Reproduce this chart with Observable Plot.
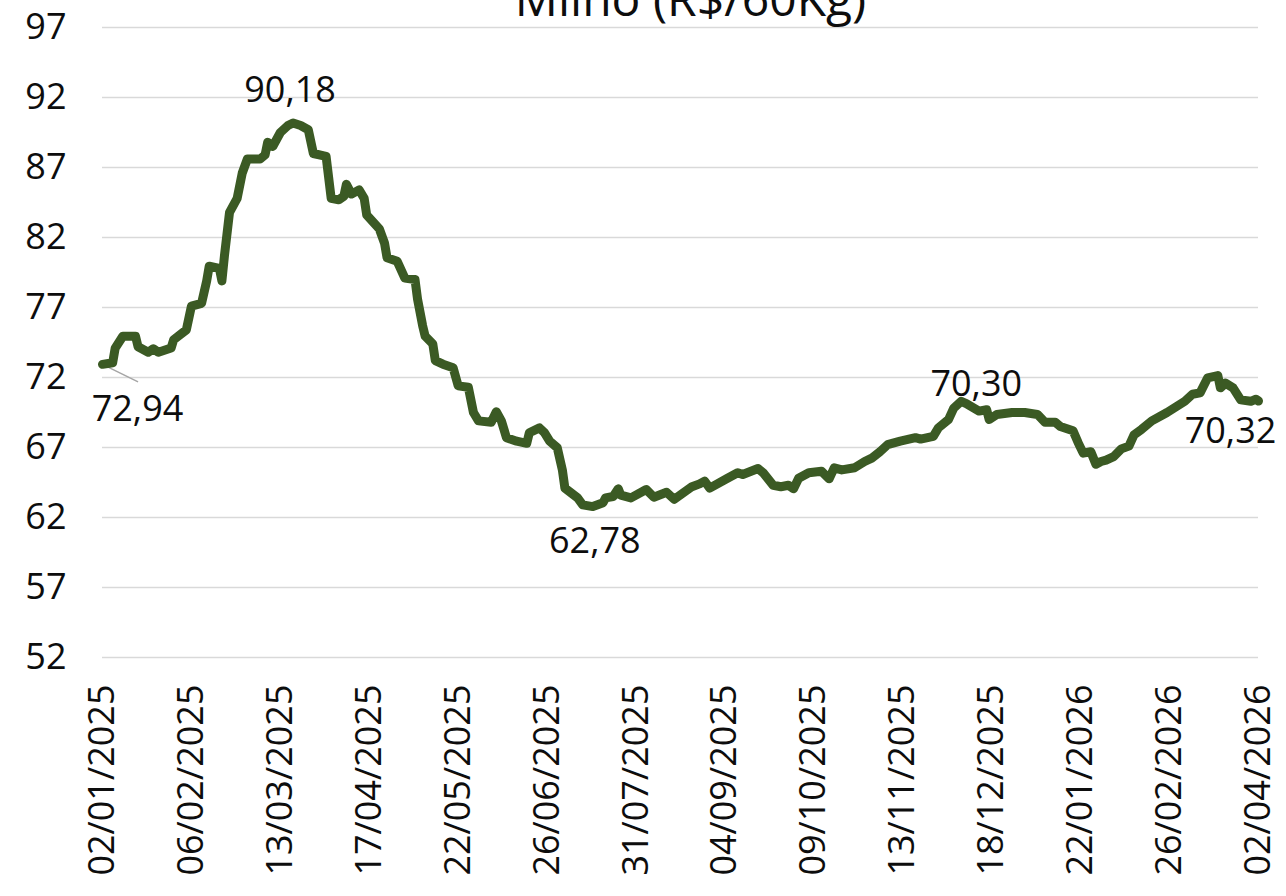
<!DOCTYPE html>
<html>
<head>
<meta charset="utf-8">
<script src="https://cdn.jsdelivr.net/npm/d3@7"></script>
<script src="https://cdn.jsdelivr.net/npm/@observablehq/plot@0.6"></script>
<style>
  html, body { margin: 0; padding: 0; background: #fff; }
  #chart { width: 1286px; height: 896px; overflow: hidden; }
</style>
</head>
<body>
<div id="chart"></div>
<script>
const titleText = "Milho (R$/60Kg)";

const dates = [
"2025-01-02","2025-01-06","2025-01-07","2025-01-10","2025-01-15","2025-01-16","2025-01-20","2025-01-22","2025-01-24","2025-01-29",
"2025-01-30","2025-02-04","2025-02-06","2025-02-10","2025-02-12","2025-02-13","2025-02-17","2025-02-18","2025-02-19","2025-02-21",
"2025-02-24","2025-02-26","2025-02-28","2025-03-05","2025-03-07","2025-03-08","2025-03-10","2025-03-13","2025-03-16","2025-03-18",
"2025-03-21","2025-03-24","2025-03-26","2025-03-31","2025-04-02","2025-04-05","2025-04-07","2025-04-08","2025-04-10","2025-04-13",
"2025-04-15","2025-04-16","2025-04-21","2025-04-23","2025-04-24","2025-04-28","2025-05-01","2025-05-05","2025-05-06","2025-05-08",
"2025-05-09","2025-05-12","2025-05-13","2025-05-16","2025-05-20","2025-05-22","2025-05-26","2025-05-28","2025-05-30","2025-06-04",
"2025-06-06","2025-06-08","2025-06-10","2025-06-14","2025-06-18","2025-06-19","2025-06-23","2025-06-25","2025-06-27","2025-06-30",
"2025-07-02","2025-07-03","2025-07-08","2025-07-10","2025-07-14","2025-07-18","2025-07-19","2025-07-22","2025-07-24","2025-07-25",
"2025-07-29","2025-08-04","2025-08-07","2025-08-12","2025-08-15","2025-08-22","2025-08-25","2025-08-27","2025-08-29","2025-09-05",
"2025-09-09","2025-09-11","2025-09-17","2025-09-19","2025-09-23","2025-09-26","2025-09-29","2025-10-01","2025-10-03","2025-10-07",
"2025-10-12","2025-10-15","2025-10-17","2025-10-20","2025-10-25","2025-10-29","2025-11-01","2025-11-04","2025-11-07","2025-11-12",
"2025-11-18","2025-11-20","2025-11-25","2025-11-27","2025-12-01","2025-12-03","2025-12-06","2025-12-08","2025-12-13","2025-12-16",
"2025-12-17","2025-12-20","2025-12-26","2025-12-31","2026-01-05","2026-01-08","2026-01-12","2026-01-14","2026-01-19","2026-01-21",
"2026-01-23","2026-01-26","2026-01-28","2026-01-30","2026-02-01","2026-02-04","2026-02-07","2026-02-10","2026-02-12","2026-02-15",
"2026-02-19","2026-02-25","2026-03-04","2026-03-07","2026-03-10","2026-03-13","2026-03-17","2026-03-18","2026-03-20","2026-03-23",
"2026-03-26","2026-03-30","2026-04-01","2026-04-02"
];

const prices = [
72.94,73.05,74.1,74.95,74.95,74.2,73.8,74.05,73.8,74.1,
74.7,75.4,77.1,77.3,78.9,79.95,79.8,78.9,80.7,83.8,
84.8,86.6,87.6,87.6,87.9,88.8,88.5,89.5,90.0,90.18,
90.0,89.7,88.0,87.8,84.8,84.7,84.95,85.8,85.1,85.4,
84.8,83.6,82.6,81.6,80.55,80.3,79.1,79.0,77.6,75.7,
74.95,74.4,73.2,72.95,72.7,71.4,71.3,69.5,68.9,68.8,
69.55,68.9,67.7,67.45,67.3,68.05,68.4,68.05,67.45,66.98,
65.4,64.1,63.4,62.9,62.78,63.05,63.4,63.5,64.05,63.6,
63.4,64.0,63.45,63.8,63.3,64.2,64.4,64.6,64.1,64.8,
65.2,65.07,65.5,65.2,64.3,64.2,64.3,64.05,64.8,65.2,
65.3,64.76,65.55,65.4,65.55,66.0,66.26,66.7,67.2,67.45,
67.7,67.6,67.8,68.4,69.0,69.8,70.30,70.14,69.6,69.7,
69.0,69.36,69.5,69.5,69.36,68.8,68.8,68.5,68.2,67.35,
66.6,66.7,65.8,66.0,66.1,66.35,66.9,67.1,67.9,68.3,
68.9,69.5,70.3,70.8,70.9,71.98,72.14,71.26,71.6,71.26,
70.4,70.3,70.45,70.32
];

const yTicks = [52, 57, 62, 67, 72, 77, 82, 87, 92, 97];

const xTickLabels = [
"02/01/2025","06/02/2025","13/03/2025","17/04/2025","22/05/2025","26/06/2025","31/07/2025",
"04/09/2025","09/10/2025","13/11/2025","18/12/2025","22/01/2026","26/02/2026","02/04/2026"
];

const labelDates = ["2025-01-02","2025-03-18","2025-07-14","2025-12-06","2026-04-02"];
const labelTexts = ["72,94","90,18","62,78","70,30","70,32"];

// ---- build ----
const parseISO = d3.utcParse("%Y-%m-%d");
const parseBR = d3.utcParse("%d/%m/%Y");
const series = dates.map((d, i) => ({date: parseISO(d), value: prices[i]}));
const byDate = new Map(series.map(d => [+d.date, d.value]));
const ticks = xTickLabels.map(t => ({date: parseBR(t), label: t}));
const labels = labelDates.map((d, i) => {
  const date = parseISO(d);
  return {date, value: byDate.get(+date), text: labelTexts[i]};
});
// label offsets (style only)
const offsets = [[35, 45], [-3, -33], [2, 35], [15, -17], [-28, 30]];

const font = "'Open Sans', 'DejaVu Sans', sans-serif";
const textColor = "#0d0d0d";

const first = labels[0];
const chart = Plot.plot({
  width: 1286,
  height: 896,
  marginLeft: 102,
  marginRight: 28,
  marginTop: 27,
  marginBottom: 239,
  style: {fontFamily: font, fontSize: "36px", color: textColor, background: "#fff"},
  x: {type: "utc", domain: [series[0].date, series[series.length - 1].date], axis: null},
  y: {domain: [52, 97], axis: null},
  marks: [
    Plot.ruleY(yTicks, {stroke: "#d9d9d9", strokeWidth: 1.6}),
    Plot.axisY({ticks: yTicks, tickSize: 0, tickPadding: 36, tickFormat: d => String(d), fontSize: 36, fill: textColor, label: null}),
    Plot.text(ticks, {x: "date", text: "label", frameAnchor: "bottom", rotate: -90, textAnchor: "end", lineAnchor: "middle", dy: 27, fontSize: 36, fill: textColor}),
    Plot.link([first], {
      x1: "date", y1: "value",
      x2: d => d3.utcDay.offset(d.date, 14), y2: d => d.value - 1.25,
      stroke: "#a6a6a6", strokeWidth: 1.5
    }),
    Plot.line(series, {x: "date", y: "value", stroke: "#3b5a24", strokeWidth: 9, strokeLinejoin: "round", strokeLinecap: "round", curve: "linear"}),
    ...labels.map((l, i) => Plot.text([l], {
      x: "date", y: "value", text: "text",
      dx: offsets[i][0], dy: offsets[i][1],
      textAnchor: "middle", lineAnchor: "middle", fontSize: 36, fill: textColor
    })),
    Plot.text([titleText], {frameAnchor: "top", text: d => d, lineAnchor: "bottom", dy: -12, dx: 10, fontSize: 48, fill: textColor})
  ]
});
document.getElementById("chart").appendChild(chart);
</script>
</body>
</html>
